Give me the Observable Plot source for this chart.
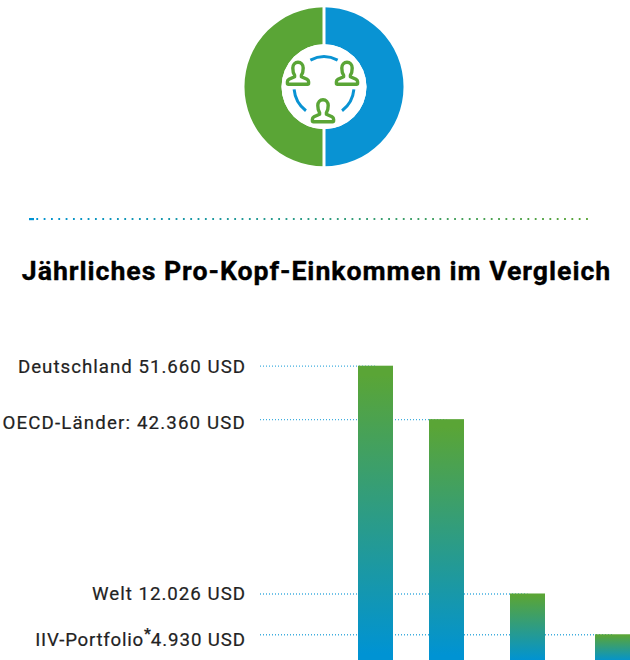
<!DOCTYPE html>
<html lang="de">
<head>
<meta charset="utf-8">
<script src="https://cdn.jsdelivr.net/npm/d3@7"></script>
<script src="https://cdn.jsdelivr.net/npm/@observablehq/plot@0.6"></script>
<style>
html,body{margin:0;padding:0;background:#fff;overflow:hidden}
svg{display:block}
</style>
</head>
<body>
<div id="chart"></div>
<script>
const title = "Jährliches Pro-Kopf-Einkommen im Vergleich";
const categories = ["Deutschland", "OECD-Länder", "Welt", "IIV-Portfolio"];
const incomes = [51660, 42360, 12026, 4930];
const labels = ["Deutschland 51.660 USD", "OECD-Länder: 42.360 USD", "Welt 12.026 USD", "IIV-Portfolio*4.930 USD"];
const donutShares = [50, 50];

const GREEN = "#5aa536", BLUE = "#0093d3";
const rows = categories.map((c, i) => ({category: c, income: incomes[i], label: labels[i], slot: i}));
const labelShift = [1, 3.2, 0, 4.8];
const labelSpacing = [1, 1.15, 1, 0.9];
// uneven bar spacing of the original: slot -1 is the start of the leader lines
const slotPlace = d3.scaleLinear().domain([-1, 0, 1, 2, 3]).range([260, 375.5, 446.5, 527.5, 612.5]);

const personPath = "M-3.4,2 C-4.8,0 -5.2,-3 -5.2,-5.2 A5.2 5.8 0 0 1 5.2,-5.2 C5.2,-3 4.8,0 3.4,2 L3.4,3.4 L9,6 Q10.6,6.9 10.6,8.4 L10.6,10 Q10.6,11 9.6,11 L-9.6,11 Q-10.6,11 -10.6,10 L-10.6,8.4 Q-10.6,6.9 -9,6 L-3.4,3.4 Z";

function decoration() {
  const g = d3.create("svg:g");
  const defs = g.append("defs");
  const bar = defs.append("linearGradient").attr("id", "barGradient").attr("x1", 0).attr("y1", 0).attr("x2", 0).attr("y2", 1);
  bar.append("stop").attr("offset", "3%").attr("stop-color", GREEN);
  bar.append("stop").attr("offset", "97%").attr("stop-color", BLUE);
  const rule = defs.append("linearGradient").attr("id", "ruleGradient").attr("gradientUnits", "userSpaceOnUse")
    .attr("x1", 29).attr("y1", 0).attr("x2", 592).attr("y2", 0);
  rule.append("stop").attr("offset", "0%").attr("stop-color", BLUE);
  rule.append("stop").attr("offset", "100%").attr("stop-color", GREEN);

  // divider
  g.append("line").attr("x1", 29).attr("x2", 592).attr("y1", 219).attr("y2", 219)
    .attr("stroke", "url(#ruleGradient)").attr("stroke-width", 2.2)
    .attr("stroke-dasharray", "1.8 5.53");
  g.append("rect").attr("x", 29).attr("y", 218).attr("width", 5).attr("height", 2.2).attr("fill", BLUE);

  // donut
  const icon = g.append("g").attr("transform", "translate(324,86.8)");
  const slices = d3.pie().sort(null)(donutShares);
  const arc = d3.arc().innerRadius(42.5).outerRadius(79.5);
  icon.selectAll("path.slice").data(slices).join("path").attr("class", "slice")
    .attr("d", arc).attr("fill", (d, i) => i === 0 ? "#0993d3" : GREEN);
  icon.append("rect").attr("x", -1.5).attr("y", -81).attr("width", 3).attr("height", 162).attr("fill", "#fff");
  icon.append("circle").attr("r", 42.5).attr("fill", "#fff");

  // ring of blue arcs
  const dash = d3.arc().innerRadius(28.5).outerRadius(31.5);
  const rad = Math.PI / 180;
  [[-27, 27], [95, 143], [-143, -95]].forEach(([a, b]) =>
    icon.append("path").attr("d", dash({startAngle: a * rad, endAngle: b * rad})).attr("fill", "#0993d3"));

  // people
  [[-26, -13.5], [23, -13.5], [-1, 24]].forEach(([x, y]) =>
    icon.append("path").attr("d", personPath).attr("transform", `translate(${x},${y})`)
      .attr("fill", "#fff").attr("stroke", GREEN).attr("stroke-width", 3.4).attr("stroke-linejoin", "round"));
  return g.node();
}

const plot = Plot.plot({
  width: 630,
  height: 660,
  margin: 0,
  style: {fontFamily: "Roboto, 'Liberation Sans', sans-serif", background: "#fff", overflow: "hidden"},
  x: {axis: null, domain: [0, 630], range: [0, 630], transform: slotPlace},
  y: {axis: null, domain: [0, 51660], range: [662.6, 365.7]},
  marks: [
    decoration,
    Plot.text([title], {
      text: d => d, frameAnchor: "top", dx: 1, dy: 271, fontSize: 26.7, fontWeight: 700, fill: "#000", lineAnchor: "middle",
      stroke: "#000", strokeWidth: 0.35, className: "t"
    }),
    Plot.ruleY(rows, {
      y: "income", x1: () => -1, x2: "slot", stroke: BLUE, strokeWidth: 1.3,
      strokeDasharray: "1 2", strokeOpacity: 0.75
    }),
    Plot.rect(rows, {
      x1: "slot", x2: "slot", y1: () => 0, y2: "income",
      insetLeft: -17.5, insetRight: -17.5, fill: "url(#barGradient)"
    }),
    ...rows.map((r, i) => Plot.text([r], {
      x: () => -1, y: "income", text: "label", textAnchor: "end", dx: -14.5, dy: labelShift[i],
      fontSize: 18.7, fill: "#222", stroke: "#222", strokeWidth: 0.2, className: "value-label"
    }))
  ]
});

d3.select(plot).selectAll(".value-label text").each(function (_, i) {
  this.setAttribute("letter-spacing", labelSpacing[i] + "px");
});
d3.select(plot).selectAll(".t text").attr("letter-spacing", "0.95px");

// raise the footnote star of the portfolio label, as real text
d3.select(plot).selectAll("text").each(function () {
  const s = this.textContent;
  if (s.includes("*")) {
    const [a, b] = s.split("*");
    const t = d3.select(this.querySelector("tspan") || this);
    t.text(null);
    t.append("tspan").attr("letter-spacing", "0.75px").text(a);
    t.append("tspan").attr("dy", -7).attr("font-weight", 700).attr("font-size", 15).attr("letter-spacing", "0px").text("*");
    t.append("tspan").attr("dy", 7).text(b);
  }
});
document.getElementById("chart").append(plot);
</script>
</body>
</html>
